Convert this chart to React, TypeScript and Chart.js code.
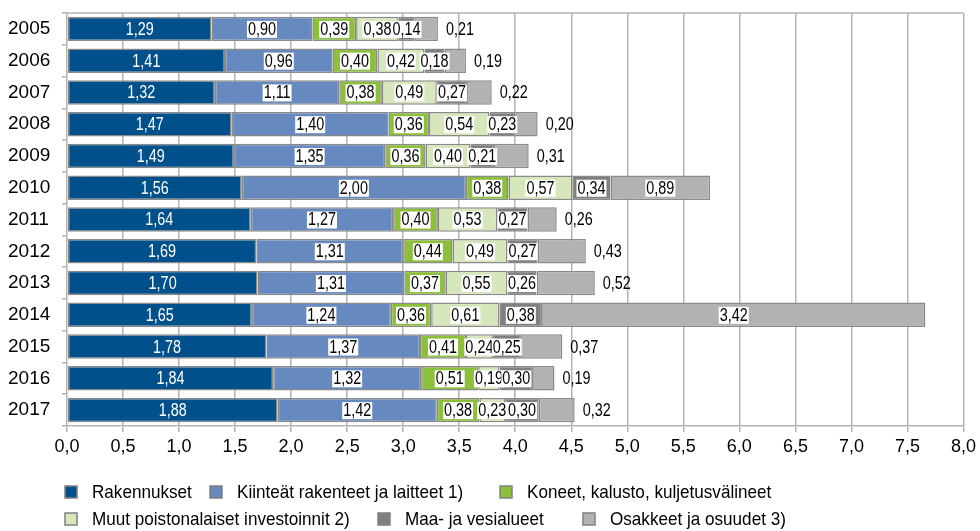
import React, { useEffect, useRef } from "react";
import { Chart, registerables } from "chart.js";

Chart.register(...registerables);

const years = ["2005","2006","2007","2008","2009","2010","2011","2012","2013","2014","2015","2016","2017"];
const rakennukset = [1.29,1.41,1.32,1.47,1.49,1.56,1.64,1.69,1.70,1.65,1.78,1.84,1.88];
const kiinteat = [0.90,0.96,1.11,1.40,1.35,2.00,1.27,1.31,1.31,1.24,1.37,1.32,1.42];
const koneet = [0.39,0.40,0.38,0.36,0.36,0.38,0.40,0.44,0.37,0.36,0.41,0.51,0.38];
const muut = [0.38,0.42,0.49,0.54,0.40,0.57,0.53,0.49,0.55,0.61,0.24,0.19,0.23];
const maa = [0.14,0.18,0.27,0.23,0.21,0.34,0.27,0.27,0.26,0.38,0.25,0.30,0.30];
const osakkeet = [0.21,0.19,0.22,0.20,0.31,0.89,0.26,0.43,0.52,3.42,0.37,0.19,0.32];
const seriesLabels = [
  "Rakennukset",
  "Kiinteät rakenteet ja laitteet 1)",
  "Koneet, kalusto, kuljetusvälineet",
  "Muut poistonalaiset investoinnit 2)",
  "Maa- ja vesialueet",
  "Osakkeet ja osuudet 3)",
];
const xTicks = [0,0.5,1,1.5,2,2.5,3,3.5,4,4.5,5,5.5,6,6.5,7,7.5,8];

const colors = ["#00508c", "#6689bf", "#8cbf3a", "#d7e7bc", "#7f7f7f", "#b2b2b2"];
const FONT = "'Liberation Sans', Arial, sans-serif";
const SQ = 0.8;
const GRID = "#b3b3b3";

const fmt = (v: number, d: number) => v.toFixed(d).replace(".", ",");

function condText(ctx: any, txt: string, x: number, y: number, align: string, sq: number) {
  ctx.save();
  ctx.translate(x, y);
  ctx.scale(sq, 1);
  ctx.textAlign = align;
  ctx.fillText(txt, 0, 0);
  ctx.restore();
}

const topLinePlugin = {
  id: "topLine",
  beforeDatasetsDraw(chart: any) {
    const { ctx, chartArea } = chart;
    ctx.save();
    ctx.strokeStyle = GRID;
    ctx.lineWidth = 1.5;
    ctx.beginPath();
    ctx.moveTo(chartArea.left, chartArea.top);
    ctx.lineTo(chartArea.right, chartArea.top);
    ctx.stroke();
    ctx.restore();
  },
};

const labelPlugin = {
  id: "segLabels",
  afterDatasetsDraw(chart: any) {
    const ctx = chart.ctx;
    ctx.save();
    ctx.font = `18px ${FONT}`;
    ctx.textBaseline = "middle";
    const n = chart.data.datasets.length;
    chart.data.datasets.forEach((ds: any, di: number) => {
      const meta = chart.getDatasetMeta(di);
      meta.data.forEach((bar: any, i: number) => {
        const v = ds.data[i];
        const txt = fmt(v, 2);
        const w = ctx.measureText(txt).width * SQ;
        const left = Math.min(bar.x, bar.base);
        const right = Math.max(bar.x, bar.base);
        const segW = right - left;
        const y = bar.y;
        const cx = (left + right) / 2;
        if (di === 0) {
          ctx.fillStyle = "#ffffff";
          condText(ctx, txt, cx, y + 1, "center", SQ);
          return;
        }
        if (di === n - 1 && segW < 70) {
          ctx.fillStyle = "#000";
          condText(ctx, txt, right + 8, y + 1, "left", SQ);
          return;
        }
        ctx.fillStyle = "#ffffff";
        ctx.fillRect(cx - w / 2 - 1, y - 8, w + 2, 17);
        ctx.fillStyle = "#000";
        condText(ctx, txt, cx, y + 1, "center", SQ);
      });
    });
    ctx.restore();
  },
};

const legendPlugin = {
  id: "customLegend",
  afterDraw(chart: any) {
    const ctx = chart.ctx;
    const pos = [
      [65, 492], [210, 492], [500, 492],
      [65, 519], [378, 519], [583, 519],
    ];
    ctx.save();
    ctx.font = `19px ${FONT}`;
    ctx.textBaseline = "middle";
    chart.data.datasets.forEach((ds: any, i: number) => {
      const [x, y] = pos[i];
      ctx.fillStyle = ds.backgroundColor;
      ctx.fillRect(x, y - 6, 12, 12);
      ctx.strokeStyle = "#808080";
      ctx.lineWidth = 1.5;
      ctx.strokeRect(x, y - 6, 12, 12);
      ctx.fillStyle = "#000";
      condText(ctx, ds.label, x + 27, y + 1, "left", 0.9);
    });
    ctx.restore();
  },
};

export default function App() {
  const ref = useRef<HTMLCanvasElement>(null);
  useEffect(() => {
    if (!ref.current) return;
    const data = [rakennukset, kiinteat, koneet, muut, maa, osakkeet];
    const chart = new Chart(ref.current, {
      type: "bar",
      data: {
        labels: years,
        datasets: data.map((d, i) => ({
          label: seriesLabels[i],
          data: d,
          backgroundColor: colors[i],
          borderColor: "#8a8a8a",
          borderWidth: 1.5,
          borderSkipped: false,
          categoryPercentage: 1,
          barPercentage: 0.77,
        })),
      },
      options: {
        indexAxis: "y",
        animation: false,
        responsive: false,
        maintainAspectRatio: false,
        layout: { padding: { left: 8, right: 13, top: 13, bottom: 73 } },
        plugins: { legend: { display: false }, tooltip: { enabled: false } },
        scales: {
          x: {
            type: "linear",
            stacked: true,
            min: 0,
            max: 8,
            afterBuildTicks: (s: any) => { s.ticks = xTicks.map((v) => ({ value: v })); },
            afterFit: (s: any) => { s.height = 32; },
            ticks: {
              color: "#000",
              font: { family: FONT, size: 18 },
              padding: 4,
              callback: (v: any) => fmt(Number(v), 1),
            },
            grid: { color: GRID, lineWidth: 1.5, tickLength: 6, tickColor: GRID },
            border: { color: GRID, width: 1.5 },
          },
          y: {
            stacked: true,
            afterFit: (s: any) => { s.width = 59; },
            ticks: { color: "#000", font: { family: FONT, size: 19 }, padding: 0, crossAlign: "far" },
            grid: { display: true, drawOnChartArea: false, offset: true, tickLength: 5, color: GRID, lineWidth: 1.5 },
            border: { display: false },
          },
        },
      },
      plugins: [topLinePlugin, labelPlugin, legendPlugin],
    });
    return () => chart.destroy();
  }, []);
  return (
    <div style={{ position: "fixed", left: 0, top: 0, width: 980, height: 531, background: "#fff" }}>
      <canvas ref={ref} width={980} height={531} style={{ width: 980, height: 531 }} />
    </div>
  );
}
